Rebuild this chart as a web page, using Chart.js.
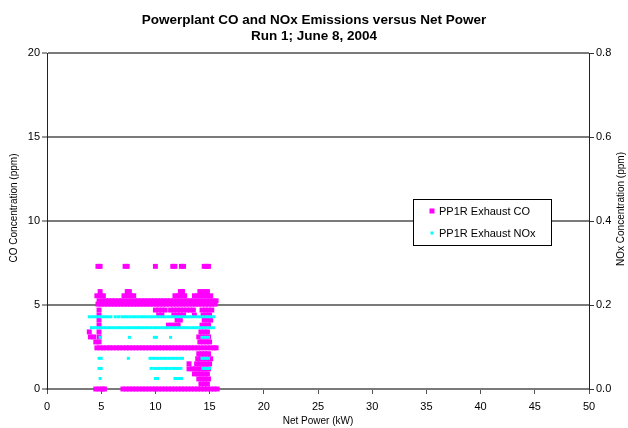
<!DOCTYPE html>
<html lang="en">
<head>
  <meta charset="UTF-8" />
  <title>Powerplant CO and NOx Emissions versus Net Power</title>
  <script src="https://cdn.jsdelivr.net/npm/chart.js"></script>
  <style>
    html, body { margin: 0; padding: 0; background: #fff; }
    #wrap { width: 628px; height: 428px; }
  </style>
</head>
<body>
  <div id="wrap"><canvas id="chart" width="628" height="428"></canvas></div>

  <script>
    // CO readings (ppm) grouped by logged level, with the net power (kW) at which each appears
    const coLevels = [7.3, 5.8, 5.55, 5.25, 5.05, 4.7, 4.4, 4.1, 3.8, 3.4, 3.1, 2.8, 2.45, 2.1, 1.8, 1.5, 1.2, 0.9, 0.6, 0.3, 0];
    const coPower = [
      [4.7, 4.9, 7.2, 7.4, 10.0, 11.6, 11.8, 12.4, 12.6, 14.5, 14.7, 14.9],
      [4.9, 7.4, 7.6, 12.3, 12.5, 14.1, 14.5, 14.8],
      [4.6, 4.9, 5.2, 7.1, 7.4, 7.7, 8.0, 11.8, 12.1, 12.4, 12.7, 13.6, 13.9, 14.2, 14.5, 14.8, 15.1],
      [4.8, 5.1, 5.4, 5.7, 6.0, 6.3, 6.6, 6.9, 7.2, 7.5, 7.8, 8.1, 8.4, 8.7, 9.0, 9.3, 9.6, 9.9, 10.2, 10.5, 10.8, 11.1, 11.4, 11.7, 12.0, 12.3, 12.6, 12.9, 13.2, 13.5, 13.8, 14.1, 14.4, 14.7, 15.0, 15.3, 15.6],
      [4.7, 5.0, 5.3, 5.6, 5.9, 6.2, 6.5, 6.8, 7.1, 7.4, 7.7, 8.0, 8.3, 8.6, 8.9, 9.2, 9.5, 9.8, 10.1, 10.4, 10.7, 11.0, 11.3, 11.6, 11.9, 12.2, 12.5, 12.8, 13.1, 13.4, 13.7, 14.0, 14.3, 14.6, 14.9, 15.2, 15.5],
      [4.8, 10.0, 10.3, 10.6, 10.9, 11.4, 11.7, 12.0, 12.3, 12.6, 12.9, 13.2, 13.5, 14.3, 14.6, 14.9, 15.2],
      [4.8, 10.3, 10.6, 11.7, 12.0, 12.3, 12.6, 13.6, 14.4, 14.7, 15.0],
      [4.8, 12.0, 12.3, 14.5, 14.8, 15.1],
      [4.8, 11.2, 11.5, 11.8, 12.1, 14.3, 14.6, 14.9],
      [3.9, 4.8, 14.2, 14.5, 14.8],
      [4.0, 4.3, 4.8, 14.0, 14.3, 14.6, 14.9],
      [4.5, 4.8, 14.1, 14.4, 14.7, 15.0],
      [4.6, 4.9, 5.2, 5.5, 5.8, 6.1, 6.4, 6.7, 7.0, 7.3, 7.6, 7.9, 8.2, 8.5, 8.8, 9.1, 9.4, 9.7, 10.0, 10.3, 10.6, 10.9, 11.2, 11.5, 11.8, 12.1, 12.4, 12.7, 13.0, 13.3, 13.6, 13.9, 14.2, 14.5, 14.8, 15.1, 15.4, 15.6],
      [14.0, 14.3, 14.6, 14.9],
      [13.9, 14.2, 14.5, 14.8, 15.1],
      [13.1, 13.8, 14.1, 14.4, 14.7, 15.0],
      [13.1, 13.4, 13.7, 14.0, 14.3, 14.6, 14.9],
      [13.6, 13.9, 14.2, 14.5, 14.8],
      [14.0, 14.3, 14.6, 14.9],
      [14.2, 14.5, 14.8],
      [4.5, 4.8, 5.1, 5.3, 7.0, 7.3, 7.6, 7.9, 8.2, 8.5, 8.8, 9.1, 9.4, 9.7, 10.0, 10.3, 10.6, 10.9, 11.2, 11.5, 11.8, 12.1, 12.4, 12.7, 13.0, 13.3, 13.6, 13.9, 14.2, 14.5, 14.8, 15.1, 15.4, 15.7]
    ];

    // NOx readings (ppm) grouped the same way
    const noxLevels = [0.172, 0.146, 0.123, 0.073, 0.049, 0.025];
    const noxPower = [
      [3.9, 4.15, 4.4, 4.65, 4.9, 5.15, 5.4, 5.65, 5.9, 6.3, 6.6, 6.9, 7.15, 7.4, 7.65, 7.9, 8.15, 8.4, 8.65, 8.9, 9.15, 9.4, 9.65, 9.9, 10.15, 10.4, 10.65, 10.9, 11.15, 11.4, 11.65, 11.9, 12.15, 12.4, 12.65, 12.9, 13.15, 13.4, 13.65, 13.9, 14.15, 14.4, 14.65, 14.9, 15.15, 15.4],
      [4.1, 4.35, 4.6, 4.85, 5.1, 5.35, 5.6, 5.85, 6.1, 6.35, 6.6, 6.85, 7.1, 7.35, 7.6, 7.85, 8.1, 8.35, 8.6, 8.85, 9.1, 9.35, 9.6, 9.85, 10.1, 10.35, 10.6, 10.85, 11.1, 11.35, 11.6, 11.85, 12.1, 12.35, 12.6, 12.85, 13.1, 13.35, 13.6, 13.85, 14.1, 14.35, 14.6, 14.85, 15.1, 15.35],
      [4.9, 7.6, 9.9, 10.1, 11.4, 14.3, 14.5, 14.7, 14.9],
      [4.8, 5.0, 7.5, 9.5, 9.75, 10.0, 10.25, 10.5, 10.75, 11.0, 11.25, 11.5, 11.75, 12.0, 12.25, 12.5, 14.3, 14.5, 14.7, 14.9],
      [4.8, 5.0, 9.6, 9.85, 10.1, 10.35, 10.6, 10.85, 11.1, 11.35, 11.6, 11.85, 12.1, 12.35, 14.4, 14.6, 14.8, 15.0],
      [4.9, 10.0, 10.2, 11.8, 12.0, 12.2, 12.4]
    ];

    function toPoints(levels, powers) {
      const pts = [];
      levels.forEach((lv, i) => powers[i].forEach(x => pts.push({ x: x, y: lv })));
      return pts;
    }

    const FONT = "'Liberation Sans', Arial, sans-serif";

    // legend box and the rotated axis titles are drawn here
    const extras = {
      id: 'extras',
      afterDraw(chart) {
        const ctx = chart.ctx;
        ctx.save();
        // legend
        ctx.fillStyle = '#fff';
        ctx.fillRect(413, 199, 138, 46);
        ctx.strokeStyle = '#000';
        ctx.lineWidth = 1;
        ctx.strokeRect(413.5, 199.5, 138, 46);
        ctx.font = '11px ' + FONT;
        ctx.textBaseline = 'middle';
        chart.data.datasets.forEach((ds, i) => {
          const y = 211 + i * 22;
          ctx.fillStyle = ds.backgroundColor;
          const s = i === 0 ? 5 : 3;
          ctx.fillRect(432 - s / 2, y - s / 2, s, s);
          ctx.fillStyle = '#000';
          ctx.fillText(ds.label, 439, y + 1);
        });
        // y axis titles, both reading bottom to top
        ctx.font = '10px ' + FONT;
        ctx.textAlign = 'center';
        ctx.fillStyle = '#000';
        [[14, 208, 'CO Concentration (ppm)'], [621, 209, 'NOx Concentration (ppm)']].forEach(t => {
          ctx.save();
          ctx.translate(t[0], t[1]);
          ctx.rotate(-Math.PI / 2);
          ctx.fillText(t[2], 0, 0);
          ctx.restore();
        });
        ctx.restore();
      }
    };

    new Chart(document.getElementById('chart'), {
      type: 'scatter',
      data: {
        datasets: [
          {
            label: 'PP1R Exhaust CO',
            data: toPoints(coLevels, coPower),
            yAxisID: 'y',
            backgroundColor: '#ff00ff',
            borderColor: '#ff00ff',
            pointStyle: 'rect',
            pointRadius: 3.5,
            pointBorderWidth: 0,
            clip: false,
            order: 1
          },
          {
            label: 'PP1R Exhaust NOx',
            data: toPoints(noxLevels, noxPower),
            yAxisID: 'y1',
            backgroundColor: '#00ffff',
            borderColor: '#00ffff',
            pointStyle: 'rect',
            pointRadius: 2.1,
            pointBorderWidth: 0,
            clip: false,
            order: 0
          }
        ]
      },
      options: {
        responsive: false,
        animation: false,
        layout: { padding: 0 },
        plugins: {
          legend: { display: false },
          tooltip: { enabled: false },
          title: {
            display: true,
            text: ['Powerplant CO and NOx Emissions versus Net Power', 'Run 1; June 8, 2004'],
            color: '#000',
            font: { family: FONT, size: 13.5, weight: 'bold', lineHeight: 1.2 },
            padding: { top: 12, bottom: 8.6 }
          }
        },
        scales: {
          x: {
            type: 'linear',
            min: 0,
            max: 50,
            ticks: { stepSize: 5, color: '#000', padding: 6, maxRotation: 0, font: { family: FONT, size: 11 } },
            grid: { drawOnChartArea: false, drawTicks: true, tickLength: 5, tickColor: '#555' },
            border: { color: '#7a7a7a', width: 2 },
            title: { display: true, text: 'Net Power (kW)', color: '#000', font: { family: FONT, size: 10 }, padding: { top: 2, bottom: 1 } },
            afterFit(s) { s.height = 39; }
          },
          y: {
            position: 'left',
            min: 0,
            max: 20,
            ticks: { stepSize: 5, color: '#000', padding: 2, font: { family: FONT, size: 11 } },
            grid: { color: '#7a7a7a', lineWidth: 2, tickLength: 5, tickColor: '#333', tickWidth: 1 },
            border: { color: '#222', width: 1 },
            afterFit(s) { s.width = 47; }
          },
          y1: {
            position: 'right',
            min: 0,
            max: 0.8,
            ticks: { stepSize: 0.2, color: '#000', padding: 2, font: { family: FONT, size: 11 }, callback: v => v.toFixed(1) },
            grid: { drawOnChartArea: false, tickLength: 5, tickColor: '#333', tickWidth: 1 },
            border: { color: '#222', width: 1 },
            afterFit(s) { s.width = 39; }
          }
        }
      },
      plugins: [extras]
    });
  </script>
</body>
</html>
